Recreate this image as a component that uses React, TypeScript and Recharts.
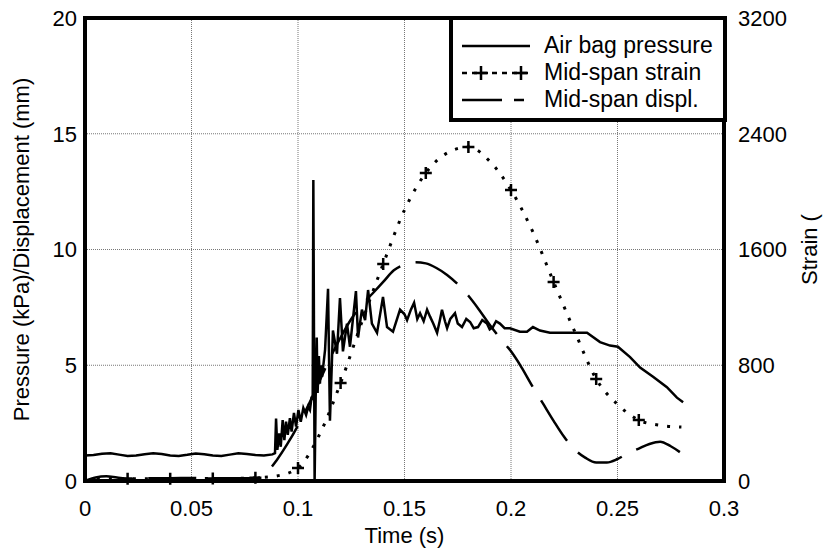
import React from 'react'
import { LineChart, Line, XAxis, YAxis, CartesianGrid, ReferenceArea } from 'recharts'

// air bag pressure, kPa (left axis)
const pressureT = [
  0, 0.004, 0.008, 0.012, 0.016, 0.02, 0.024, 0.028, 0.032, 0.036, 0.04, 0.044, 0.048, 0.052, 0.056,
  0.06, 0.064, 0.068, 0.072, 0.076, 0.08, 0.084, 0.088,
  0.0892, 0.0897, 0.0903, 0.0912, 0.0919, 0.0928, 0.0936, 0.0944, 0.0952, 0.0962, 0.097, 0.0981,
  0.0991, 0.1002, 0.1013, 0.1025, 0.1038, 0.1048, 0.1056, 0.1064, 0.1069,
  0.1072, 0.1078, 0.1083, 0.1088, 0.1092, 0.1098, 0.1103, 0.1108, 0.1113, 0.1127, 0.1141, 0.115,
  0.1164, 0.1183, 0.1197, 0.1211, 0.123, 0.1244, 0.1272, 0.1282, 0.13, 0.1315, 0.1329, 0.1347,
  0.1371, 0.1399, 0.1418, 0.1446, 0.1479, 0.15, 0.1512, 0.153, 0.1545, 0.156, 0.1573, 0.159,
  0.1606, 0.162, 0.1635, 0.1653, 0.1665, 0.1676, 0.169, 0.17, 0.1715, 0.1737, 0.175, 0.177,
  0.179, 0.1808, 0.1825, 0.1845, 0.1865, 0.1887, 0.19, 0.1915, 0.193, 0.1948, 0.197, 0.1995,
  0.2042, 0.2075, 0.2103, 0.2136, 0.2183, 0.223, 0.2291, 0.2357, 0.2418, 0.2465, 0.2502, 0.2559,
  0.2606, 0.2667, 0.2732, 0.2779, 0.2808,
]
const pressureV = [
  1.1, 1.12, 1.18, 1.2, 1.14, 1.08, 1.1, 1.16, 1.2, 1.17, 1.1, 1.08, 1.13, 1.19, 1.16,
  1.1, 1.08, 1.14, 1.2, 1.17, 1.12, 1.1, 1.15,
  1.2, 2.7, 1.35, 2.06, 1.48, 2.63, 1.77, 2.56, 1.99, 2.72, 2.13, 2.94,
  2.35, 3.07, 2.56, 3.15, 2.85, 3.21, 3.07, 3.64, 3.5,
  13.0, 0, 3.6, 6.2, 3.8, 5.4, 4.2, 5.0, 4.5, 5.66, 8.3, 2.6,
  6.5, 5.5, 7.9, 5.6, 6.8, 5.8, 8.2, 6.2, 7.4, 6.95, 8.25, 6.8,
  6.4, 7.95, 6.65, 6.45, 7.4, 7.2, 6.95, 7.4, 7.7, 7.0, 7.25, 6.9,
  7.4, 7.1, 6.8, 6.4, 6.9, 7.4, 6.9, 6.6, 7.0, 7.25, 6.8, 6.65,
  7.0, 6.87, 6.6, 6.65, 6.95, 6.8, 6.55, 6.65, 6.9, 6.8, 6.6, 6.6,
  6.45, 6.45, 6.65, 6.5, 6.4, 6.4, 6.4, 6.4, 6.0, 5.85, 5.8, 5.35,
  4.9, 4.5, 4.05, 3.6, 3.4,
]

// mid-span strain (right axis)
const strainT = [0, 0.01, 0.02, 0.03, 0.04, 0.05, 0.06, 0.07, 0.08, 0.09, 0.1, 0.11, 0.12, 0.13, 0.14,
  0.15, 0.16, 0.17, 0.18, 0.19, 0.2, 0.21, 0.22, 0.23, 0.24, 0.25, 0.26, 0.27, 0.28]
const strainV = [0, 15, 16, 16, 16, 18, 18, 18, 22, 35, 90, 318, 677, 1100, 1500,
  1873, 2129, 2267, 2309, 2210, 2011, 1730, 1376, 1030, 705, 530, 421, 385, 373]
const strainMarkT = [0.02, 0.04, 0.06, 0.08, 0.1, 0.12, 0.14, 0.16, 0.18, 0.2, 0.22, 0.24, 0.26]

// mid-span displacement, mm (left axis)
const displT = [0, 0.005, 0.01, 0.015, 0.02, 0.03, 0.04, 0.05, 0.06, 0.07, 0.08, 0.085, 0.09, 0.095,
  0.1, 0.105, 0.11, 0.115, 0.12, 0.125, 0.13, 0.135, 0.14, 0.145, 0.15, 0.155, 0.16, 0.165, 0.17,
  0.175, 0.18, 0.185, 0.19, 0.195, 0.2, 0.205, 0.21, 0.215, 0.22, 0.225, 0.23, 0.235, 0.24, 0.245,
  0.25, 0.255, 0.26, 0.265, 0.27, 0.275, 0.28]
const displV = [0, 0.15, 0.2, 0.15, 0.1, 0.12, 0.12, 0.13, 0.12, 0.12, 0.12, 0.35, 0.9, 1.6,
  2.4, 3.3, 4.3, 5.3, 6.2, 7.0, 7.6, 8.1, 8.6, 9.1, 9.35, 9.45, 9.4, 9.2, 8.9,
  8.5, 8.0, 7.4, 6.75, 6.15, 5.6, 4.9, 4.1, 3.35, 2.6, 1.9, 1.35, 1.0, 0.8, 0.8,
  0.95, 1.2, 1.4, 1.6, 1.7, 1.5, 1.2]

const xTicks = [0, 0.05, 0.1, 0.15, 0.2, 0.25, 0.3]
const leftTicks = [0, 5, 10, 15, 20]
const rightTicks = [0, 800, 1600, 2400, 3200]

const pressureData = pressureT.map((t, i) => ({ t, v: pressureV[i] }))
const strainData = strainT.map((t, i) => ({ t, v: strainV[i] }))
const strainMarks = strainMarkT.map((t) => ({ t, v: strainV[strainT.indexOf(t)] }))
const displData = displT.map((t, i) => ({ t, v: displV[i] }))

const font = '"Liberation Sans", Arial, sans-serif'
const tickStyle = { fontSize: 22, fill: '#000', fontFamily: font }

const Plus = (props: any) => {
  const { cx, cy, key } = props
  if (cx == null || cy == null) return <g key={key} />
  return (
    <path key={key} d={`M${cx - 6},${cy}H${cx + 6}M${cx},${cy - 6}V${cy + 6}`} stroke="#000" strokeWidth={2.5} fill="none" />
  )
}

function LegendBox() {
  const row = { display: 'flex', alignItems: 'center', height: 27 }
  return (
    <div style={{ position: 'absolute', left: 449, top: 16, width: 270, height: 86, border: '4px solid #000',
      background: '#fff', fontFamily: font, fontSize: 23, color: '#000', paddingTop: 12, boxSizing: 'content-box' }}>
      <div style={row}>
        <svg width={86} height={20} style={{ marginLeft: 5 }}><line x1={4} y1={10} x2={72} y2={10} stroke="#000" strokeWidth={2.5} /></svg>
        <span>Air bag pressure</span>
      </div>
      <div style={row}>
        <svg width={86} height={20} style={{ marginLeft: 5 }}>
          <line x1={4} y1={10} x2={72} y2={10} stroke="#000" strokeWidth={2.5} strokeDasharray="5 5" />
          <path d="M16,10H30M23,3V17M56,10H70M63,3V17" stroke="#000" strokeWidth={2.5} fill="none" />
        </svg>
        <span>Mid-span strain</span>
      </div>
      <div style={row}>
        <svg width={86} height={20} style={{ marginLeft: 5 }}>
          <line x1={4} y1={10} x2={72} y2={10} stroke="#000" strokeWidth={2.5} strokeDasharray="40 12 10 20" />
        </svg>
        <span>Mid-span displ.</span>
      </div>
    </div>
  )
}

export default function App() {
  return (
    <div style={{ position: 'absolute', left: 0, top: 0, width: 833, height: 549, background: '#fff', fontFamily: font }}>
      <LineChart width={833} height={549} margin={{ top: 18, right: 0, bottom: 0, left: 0 }}>
        <CartesianGrid yAxisId="left" stroke="#777" strokeDasharray="1 1" />
        <XAxis dataKey="t" type="number" domain={[0, 0.3]} ticks={xTicks} height={68} axisLine={false}
          tickLine={false} tickSize={6} tickMargin={13} tick={tickStyle}
          label={{ content: ({ viewBox }: any) => (
            <text x={viewBox.x + viewBox.width / 2} y={viewBox.y + 62} textAnchor="middle" fontSize={22} fontFamily={font} fill="#000">Time (s)</text>
          ) }} />
        <YAxis yAxisId="left" domain={[0, 20]} ticks={leftTicks} width={85} axisLine={false} tickLine={false}
          tickSize={6} tickMargin={2} tick={tickStyle}
          label={{ content: ({ viewBox }: any) => {
            const x = viewBox.x + 21
            const y = viewBox.y + viewBox.height / 2
            return (
              <text x={x} y={y} transform={`rotate(-90 ${x} ${y})`} textAnchor="middle" dominantBaseline="central"
                fontSize={22} fontFamily={font} fill="#000">Pressure (kPa)/Displacement (mm)</text>
            )
          } }} />
        <YAxis yAxisId="right" orientation="right" domain={[0, 3200]} ticks={rightTicks} width={109}
          axisLine={false} tickLine={false} tickSize={6} tickMargin={8} tick={tickStyle}
          label={{ content: ({ viewBox }: any) => {
            const x = viewBox.x + 85
            const y = viewBox.y + viewBox.height / 2
            return (
              <text x={x} y={y} transform={`rotate(-90 ${x} ${y})`} textAnchor="middle" dominantBaseline="central"
                fontSize={22} fontFamily={font} fill="#000">Strain (</text>
            )
          } }} />
        <Line yAxisId="left" data={displData} dataKey="v" type="monotone" stroke="#000" strokeWidth={2.5}
          strokeDasharray="48 16" dot={false} isAnimationActive={false} />
        <Line yAxisId="right" data={strainData} dataKey="v" type="monotone" stroke="#000" strokeWidth={3}
          strokeDasharray="3 9" dot={false} isAnimationActive={false} />
        <Line yAxisId="right" data={strainMarks} dataKey="v" stroke="none" dot={Plus} isAnimationActive={false} />
        <Line yAxisId="left" data={pressureData} dataKey="v" type="linear" stroke="#000" strokeWidth={2.5}
          dot={false} isAnimationActive={false} />
        <ReferenceArea yAxisId="left" x1={0} x2={0.3} y1={0} y2={20} stroke="#000" strokeWidth={4}
          fill="none" fillOpacity={0} />
      </LineChart>
      <LegendBox />
    </div>
  )
}
